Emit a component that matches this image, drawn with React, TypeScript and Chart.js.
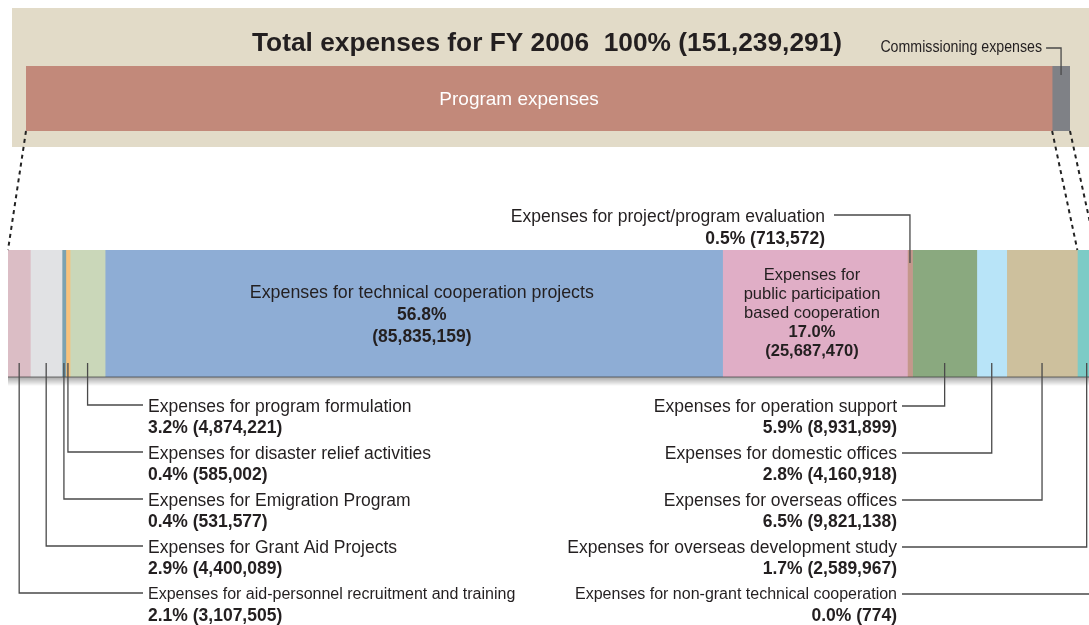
import React, { useEffect, useRef } from "react";
import { Chart, registerables } from "chart.js";

Chart.register(...registerables);

const TITLE = "Total expenses for FY 2006  100% (151,239,291)";

const topCategories = ["Program expenses", "Commissioning expenses"];
const topValues = [148648550, 2590741];
const topColors = ["#c2897a", "#7f8186"];

const categories = [
  "Expenses for aid-personnel recruitment and training",
  "Expenses for Grant Aid Projects",
  "Expenses for Emigration Program",
  "Expenses for disaster relief activities",
  "Expenses for program formulation",
  "Expenses for technical cooperation projects",
  "Expenses for public participation based cooperation",
  "Expenses for project/program evaluation",
  "Expenses for operation support",
  "Expenses for domestic offices",
  "Expenses for overseas offices",
  "Expenses for overseas development study",
  "Expenses for non-grant technical cooperation",
];
const values = [
  3107505, 4400089, 531577, 585002, 4874221, 85835159, 25687470, 713572,
  8931899, 4160918, 9821138, 2589967, 774,
];
const percents = [
  "2.1%", "2.9%", "0.4%", "0.4%", "3.2%", "56.8%", "17.0%", "0.5%",
  "5.9%", "2.8%", "6.5%", "1.7%", "0.0%",
];
const colors = [
  "#dbbdc5", "#e1e2e4", "#7aa2b1", "#f6c27c", "#cad7b9", "#8eadd5",
  "#e0aec6", "#c4978b", "#8aa97f", "#b8e4f8", "#cdc09d", "#7dcbc6", "#9fb6c8",
];

const leftLabelIdx = [4, 3, 2, 1, 0];
const rightLabelIdx = [8, 9, 10, 11, 12];
const insideWide = 5;
const insideStacked = 6;
const topLabelIdx = 7;
const publicLines = ["Expenses for", "public participation", "based cooperation"];

const FONT = "'Liberation Sans', Arial, Helvetica, sans-serif";
const INK = "#231f20";
const LEAD = "#4a4a4a";

const fmt = (v: number) => v.toLocaleString("en-US");

function txt(ctx: CanvasRenderingContext2D, s: string, x: number, y: number, font: string, color: string, align: CanvasTextAlign, squeeze = 1) {
  ctx.save();
  ctx.font = font;
  ctx.fillStyle = color;
  ctx.textAlign = align;
  ctx.textBaseline = "middle";
  if (squeeze !== 1) {
    ctx.translate(x, y);
    ctx.scale(squeeze, 1);
    ctx.fillText(s, 0, 0);
  } else {
    ctx.fillText(s, x, y);
  }
  ctx.restore();
}

function seg(chart: any, i: number) {
  const el = chart.getDatasetMeta(i).data[0];
  const p = el.getProps(["x", "base", "y", "height"], true);
  return { start: p.base, end: p.x, cx: (p.base + p.x) / 2, top: p.y - p.height / 2, bottom: p.y + p.height / 2, cy: p.y };
}

const TOP_LEFT = 12;
const TOP_TOP = 8;
const BOT_TOP = 125;

export default function App() {
  const topRef = useRef<HTMLCanvasElement>(null);
  const botRef = useRef<HTMLCanvasElement>(null);

  useEffect(() => {
    const topTotal = topValues.reduce((a, b) => a + b, 0);
    const total = values.reduce((a, b) => a + b, 0);

    const topPlugin = {
      id: "topDecor",
      afterDatasetsDraw(chart: any) {
        const ctx = chart.ctx as CanvasRenderingContext2D;
        const ca = chart.chartArea;
        ctx.save();
        txt(ctx, TITLE, (ca.left + ca.right) / 2 - 1, 36, `bold 26.3px ${FONT}`, INK, "center");
        const p = seg(chart, 0);
        txt(ctx, topCategories[0], p.cx - 20, p.cy + 1, `19px ${FONT}`, "#ffffff", "center");
        const c = seg(chart, 1);
        txt(ctx, topCategories[1], c.cx - 19, 39, `16.5px ${FONT}`, INK, "right", 0.86);
        ctx.strokeStyle = LEAD;
        ctx.lineWidth = 1.3;
        ctx.beginPath();
        ctx.moveTo(c.cx - 15, 40);
        ctx.lineTo(c.cx, 40);
        ctx.lineTo(c.cx, c.top + 9);
        ctx.stroke();
        ctx.restore();
      },
    };

    const topChart = new Chart(topRef.current!, {
      type: "bar",
      data: {
        labels: ["total"],
        datasets: topCategories.map((c, i) => ({
          label: c,
          data: [topValues[i]],
          backgroundColor: topColors[i],
          borderWidth: 0,
          barPercentage: 1,
          categoryPercentage: 1,
        })),
      },
      options: {
        indexAxis: "y",
        responsive: false,
        animation: false,
        layout: { padding: { left: 14, right: 32, top: 58, bottom: 16 } },
        scales: {
          x: { stacked: true, min: 0, max: topTotal, display: false },
          y: { stacked: true, display: false },
        },
        plugins: { legend: { display: false }, tooltip: { enabled: false } },
      },
      plugins: [topPlugin],
    } as any);

    const botPlugin = {
      id: "botDecor",
      afterDatasetsDraw(chart: any) {
        const ctx = chart.ctx as CanvasRenderingContext2D;
        const ca = chart.chartArea;
        ctx.save();
        // shadow under bar
        const g = ctx.createLinearGradient(0, ca.bottom, 0, ca.bottom + 9);
        g.addColorStop(0, "rgba(0,0,0,0.35)");
        g.addColorStop(1, "rgba(0,0,0,0)");
        ctx.fillStyle = g;
        ctx.fillRect(ca.left, ca.bottom, ca.right - ca.left, 9);
        ctx.fillStyle = "rgba(60,60,60,0.7)";
        ctx.fillRect(ca.left, ca.bottom - 0.5, ca.right - ca.left, 1);

        // dashed connectors from top chart
        const tp = seg(topChart, 0);
        const tc = seg(topChart, 1);
        const toLocal = (x: number, y: number) => [x + TOP_LEFT, y + TOP_TOP - BOT_TOP];
        const s11 = seg(chart, 11);
        const s12 = seg(chart, 12);
        const pairs: [number[], number[]][] = [
          [toLocal(tp.start, tp.bottom), [ca.left, ca.top]],
          [toLocal(tc.start, tc.bottom), [s11.start, ca.top]],
          [toLocal(tc.end, tc.bottom), [s12.end, ca.top]],
        ];
        ctx.strokeStyle = "#222";
        ctx.lineWidth = 2;
        ctx.setLineDash([4, 4]);
        pairs.forEach(([a, b]) => {
          ctx.beginPath();
          ctx.moveTo(a[0], a[1]);
          ctx.lineTo(b[0], b[1]);
          ctx.stroke();
        });
        ctx.setLineDash([]);

        const F = `17.5px ${FONT}`;
        const FS = `16px ${FONT}`;
        const FB = `bold 17.5px ${FONT}`;
        ctx.strokeStyle = LEAD;
        ctx.lineWidth = 1.3;

        // left labels
        leftLabelIdx.forEach((idx, r) => {
          const s = seg(chart, idx);
          const y = 282 + 47 * r;
          ctx.beginPath();
          ctx.moveTo(s.cx, ca.bottom - 14);
          ctx.lineTo(s.cx, y - 2);
          ctx.lineTo(143, y - 2);
          ctx.stroke();
          txt(ctx, categories[idx], 148, y, r === 4 ? FS : F, INK, "left");
          txt(ctx, `${percents[idx]} (${fmt(values[idx])})`, 148, y + 21, FB, INK, "left");
        });

        // right labels
        rightLabelIdx.forEach((idx, r) => {
          const s = seg(chart, idx);
          const y = 282 + 47 * r;
          ctx.beginPath();
          ctx.moveTo(902, y - 1);
          ctx.lineTo(s.cx, y - 1);
          ctx.lineTo(s.cx, ca.bottom - 14);
          ctx.stroke();
          txt(ctx, categories[idx], 897, y, r === 4 ? FS : F, INK, "right");
          txt(ctx, `${percents[idx]} (${fmt(values[idx])})`, 897, y + 21, FB, INK, "right");
        });

        // top label (evaluation)
        {
          const s = seg(chart, topLabelIdx);
          ctx.beginPath();
          ctx.moveTo(834, 90);
          ctx.lineTo(s.cx, 90);
          ctx.lineTo(s.cx, ca.top + 13);
          ctx.stroke();
          txt(ctx, categories[topLabelIdx], 825, 92, F, INK, "right");
          txt(ctx, `${percents[topLabelIdx]} (${fmt(values[topLabelIdx])})`, 825, 114, FB, INK, "right");
        }

        // inside wide segment
        {
          const s = seg(chart, insideWide);
          const x = s.cx + 8;
          txt(ctx, categories[insideWide], x, s.cy - 20, `17.8px ${FONT}`, INK, "center");
          txt(ctx, percents[insideWide], x, s.cy + 2, FB, INK, "center");
          txt(ctx, `(${fmt(values[insideWide])})`, x, s.cy + 24, FB, INK, "center");
        }

        // inside stacked label
        {
          const s = seg(chart, insideStacked);
          const f = `16.5px ${FONT}`;
          const fb = `bold 16.5px ${FONT}`;
          const x = s.cx - 3;
          publicLines.forEach((l, k) => txt(ctx, l, x, s.cy - 38 + 19 * k, f, INK, "center"));
          txt(ctx, percents[insideStacked], x, s.cy + 19, fb, INK, "center");
          txt(ctx, `(${fmt(values[insideStacked])})`, x, s.cy + 38, fb, INK, "center");
        }
        ctx.restore();
      },
    };

    const botChart = new Chart(botRef.current!, {
      type: "bar",
      data: {
        labels: ["breakdown"],
        datasets: categories.map((c, i) => ({
          label: c,
          data: [values[i]],
          backgroundColor: colors[i],
          borderWidth: 0,
          barPercentage: 1,
          categoryPercentage: 1,
        })),
      },
      options: {
        indexAxis: "y",
        responsive: false,
        animation: false,
        layout: { padding: { left: 8, right: 4, top: 125, bottom: 248 } },
        scales: {
          x: { stacked: true, min: 0, max: total, display: false },
          y: { stacked: true, display: false },
        },
        plugins: { legend: { display: false }, tooltip: { enabled: false } },
      },
      plugins: [botPlugin],
    } as any);

    return () => {
      botChart.destroy();
      topChart.destroy();
    };
  }, []);

  return (
    <div style={{ position: "fixed", left: 0, top: 0, width: 1089, height: 625, overflow: "hidden", background: "#ffffff" }}>
      <canvas
        ref={topRef}
        width={1090}
        height={139}
        style={{ position: "absolute", left: TOP_LEFT, top: TOP_TOP, width: 1090, height: 139, background: "#e2dbc8" }}
      />
      <canvas
        ref={botRef}
        width={1100}
        height={500}
        style={{ position: "absolute", left: 0, top: BOT_TOP, width: 1100, height: 500, zIndex: 2 }}
      />
    </div>
  );
}
